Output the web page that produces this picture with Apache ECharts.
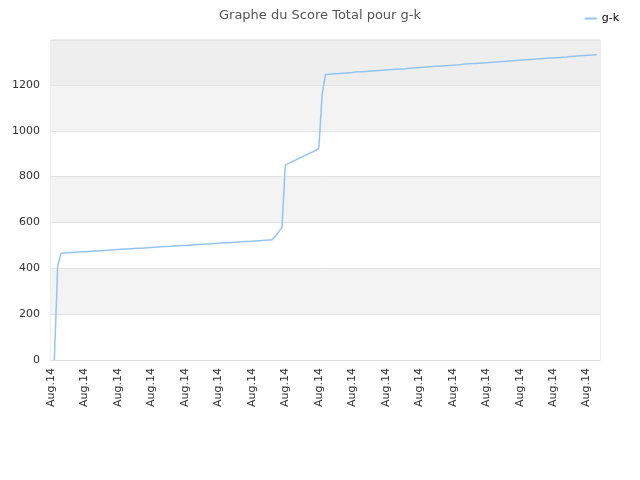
<!DOCTYPE html>
<html>
<head>
<meta charset="utf-8">
<script src="https://cdn.jsdelivr.net/npm/echarts@6/dist/echarts.min.js"></script>
<style>html,body{margin:0;padding:0;background:#fff}#c{width:640px;height:480px}</style>
</head>
<body>
<div id="c"></div>
<script>
var title = 'Graphe du Score Total pour g-k';
var seriesName = 'g-k';
var tickLabel = 'Aug.14';
var categories = Array(165).fill(tickLabel);
var scores = [null, 0, 410,
466,467,468,469,470,471,472,472,473,474,
475,476,477,478,479,480,481,482,483,484,
484,485,486,487,488,489,490,491,492,493,
494,495,495,496,497,498,499,500,501,502,
503,504,505,506,506,507,508,509,510,511,
512,513,514,515,516,517,517,518,519,520,
521,522,523,524,
540,559,578,851,
858,865,872,879,886,893,900,907,914,923,
1160,
1246,1247,1248,1249,1250,1251,1252,1253,1254,1256,
1257,1258,1259,1260,1261,1262,1263,1264,1265,1266,
1267,1268,1269,1270,1271,1273,1274,1275,1276,1277,
1278,1279,1280,1281,1282,1283,1284,1285,1286,1287,
1288,1290,1291,1292,1293,1294,1295,1296,1297,1298,
1299,1300,1301,1302,1303,1304,1305,1307,1308,1309,
1310,1311,1312,1313,1314,1315,1316,1317,1318,1319,
1320,1321,1322,1324,1325,1326,1327,1328,1329,1330,
1331,1332,
null];

var chart = echarts.init(document.getElementById('c'));
chart.setOption({
  animation: false,
  textStyle: {fontFamily: 'DejaVu Sans'},
  title: {text: title, left: 'center', top: 4,
    textStyle: {fontSize: 13, fontWeight: 'normal', color: '#555', fontFamily: 'DejaVu Sans'}},
  legend: {right: 16, top: 8, itemWidth: 12, itemHeight: 2, itemGap: 8,
    icon: 'rect',
    textStyle: {fontSize: 11, color: '#000', fontFamily: 'DejaVu Sans'},
    data: [seriesName]},
  grid: {left: 51, right: 40, top: 40, bottom: 120, show: true, borderColor: '#dddddd', borderWidth: 1},
  xAxis: {type: 'category', data: categories, boundaryGap: false,
    axisLine: {lineStyle: {color: '#dddddd'}},
    axisTick: {show: false},
    axisLabel: {interval: 9, rotate: 90, fontSize: 11, color: '#333', margin: 8, fontFamily: 'DejaVu Sans'},
    splitLine: {show: false}},
  yAxis: {type: 'value', min: 0, max: 1396, interval: 200,
    axisLine: {show: false}, axisTick: {show: false},
    axisLabel: {fontSize: 11, color: '#333', margin: 11, showMaxLabel: false, fontFamily: 'DejaVu Sans',
      formatter: function (v) { return String(v); }},
    splitLine: {lineStyle: {color: '#e2e2e2'}},
    splitArea: {show: true, areaStyle: {color: ['#ffffff','#f3f3f3','#ffffff','#f3f3f3','#ffffff','#f3f3f3','#eeeeee']}}},
  series: [{name: seriesName, type: 'line', data: scores, symbol: 'none',
    lineStyle: {color: '#92c5f7', width: 1.5}, itemStyle: {color: '#92c5f7'}}]
});
</script>
</body>
</html>
